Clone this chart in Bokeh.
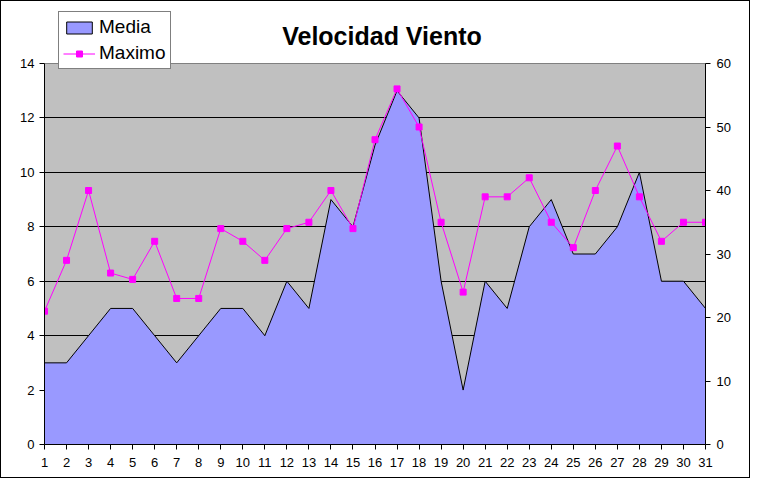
from bokeh.plotting import figure
from bokeh.models import Range1d, LinearAxis, FixedTicker, Legend, LegendItem, ColumnDataSource, Label
from bokeh.embed import file_html
from bokeh.resources import INLINE

days = list(range(1, 32))
media = [3, 3, 4, 5, 5, 4, 3, 4, 5, 5, 4, 6, 5, 9, 8, 11, 13, 12, 6, 2, 6, 5, 8, 9, 7, 7, 8, 10, 6, 6, 5]
maximo = [21, 29, 40, 27, 26, 32, 23, 23, 34, 32, 29, 34, 35, 40, 34, 48, 56, 50, 35, 24, 39, 39, 42, 35, 31, 40, 47, 39, 32, 35, 35]
left_ticks = [0, 2, 4, 6, 8, 10, 12, 14]
right_ticks = [0, 10, 20, 30, 40, 50, 60]

FONT = "Liberation Sans"

# layout (pixels)
W, H = 750, 478
LEFT, TOP, BOTTOM = 43, 10, 443
FRAME_W = 661
PLOT_H = 381                 # height of the grey plot area (0..14)
FRAME_H = BOTTOM - TOP       # frame extends above the plot area to hold the legend
scale = FRAME_H / PLOT_H

lmax = left_ticks[-1]
rmax = right_ticks[-1]

p = figure(width=W, height=H, output_backend="svg", toolbar_location=None,
           x_range=Range1d(days[0], days[-1]), y_range=Range1d(0, lmax * scale),
           min_border_left=LEFT, min_border_right=W - LEFT - FRAME_W,
           min_border_top=TOP, min_border_bottom=H - BOTTOM)
p.extra_y_ranges = {"right": Range1d(0, rmax * scale)}

p.background_fill_color = "white"
p.border_fill_color = "white"
p.outline_line_color = None
p.styles = {"border": "1px solid black", "box-sizing": "border-box"}
p.grid.visible = False

# grey plot area
p.quad(left=[days[0]], right=[days[-1]], bottom=[left_ticks[0]], top=[lmax],
       fill_color="#C0C0C0", line_color="#808080", line_width=1)
# horizontal gridlines
p.hspan(y=left_ticks[1:-1], line_color="black", line_width=1)

# area (Media)
area_x = days + [days[-1], days[0]]
area_y = media + [0, 0]
area = p.patch(area_x, area_y, fill_color="#9999FF", line_color="black", line_width=1)

src = ColumnDataSource(dict(d=days, m=maximo))
ln = p.line("d", "m", source=src, y_range_name="right", line_color="#FF00FF", line_width=1)
sc = p.scatter("d", "m", source=src, y_range_name="right", marker="square", size=6,
               fill_color="#FF00FF", line_color="#FF00FF")

# axes
p.xaxis.ticker = FixedTicker(ticks=days)
p.yaxis.ticker = FixedTicker(ticks=left_ticks)
p.yaxis.bounds = (left_ticks[0], lmax)
right_axis = LinearAxis(y_range_name="right", ticker=FixedTicker(ticks=right_ticks),
                        bounds=(right_ticks[0], rmax))
p.add_layout(right_axis, "right")

for ax in [p.xaxis[0], p.yaxis[0], right_axis]:
    ax.axis_line_color = "black"
    ax.major_tick_line_color = "black"
    ax.minor_tick_line_color = None
    ax.major_tick_out = 5
    ax.major_tick_in = 0
    ax.major_label_text_font = FONT
    ax.major_label_text_font_size = "13px"
    ax.major_label_text_color = "black"
p.xaxis.major_label_standoff = 8
p.yaxis.major_label_standoff = 5
right_axis.major_label_standoff = 6

# title
title = Label(x=(days[0] + days[-1]) / 2, y=lmax, x_offset=7, y_offset=28,
              text="Velocidad Viento", text_font=FONT, text_font_size="25px",
              text_font_style="bold", text_color="black",
              text_align="center", text_baseline="alphabetic")
p.add_layout(title)

legend = Legend(items=[LegendItem(label="Media", renderers=[area]),
                       LegendItem(label="Maximo", renderers=[ln, sc])],
                location=(14, BOTTOM - 68), orientation="vertical",
                label_text_font=FONT, label_text_font_size="19px", label_text_color="black",
                glyph_width=32, glyph_height=15, label_standoff=4, spacing=4, padding=4,
                margin=0, border_line_color="black", border_line_width=1,
                background_fill_color="white", background_fill_alpha=1.0)
p.add_layout(legend, "center")

open("out.html", "w").write(file_html(p, INLINE))
